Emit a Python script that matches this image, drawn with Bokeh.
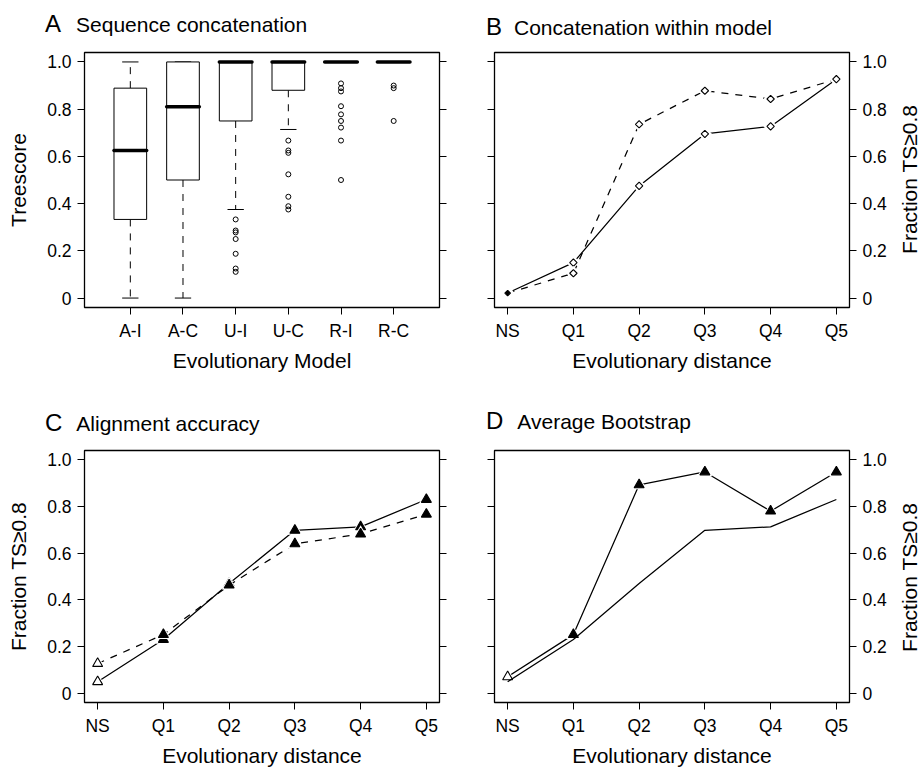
import math

from bokeh.embed import file_html
from bokeh.layouts import column, row
from bokeh.models import Div, FixedTicker, LinearAxis, Range1d
from bokeh.plotting import figure
from bokeh.resources import INLINE

FONT = "Liberation Sans"
DASH = "7 7"

# ---- Panel A: treescore distribution for each evolutionary model ----
models = ["A-I", "A-C", "U-I", "U-C", "R-I", "R-C"]
whisker_low = [0.0, 0.0, 0.375, 0.714, 1.0, 1.0]
quartile_1 = [0.333, 0.5, 0.75, 0.88, 1.0, 1.0]
medians = [0.625, 0.81, 1.0, 1.0, 1.0, 1.0]
quartile_3 = [0.889, 1.0, 1.0, 1.0, 1.0, 1.0]
whisker_high = [1.0, 1.0, 1.0, 1.0, 1.0, 1.0]
outliers_AI = []
outliers_AC = []
outliers_UI = [0.333, 0.286, 0.278, 0.25, 0.1875, 0.125, 0.111]
outliers_UC = [0.667, 0.625, 0.615, 0.524, 0.429, 0.389, 0.375]
outliers_RI = [0.909, 0.889, 0.875, 0.8125, 0.778, 0.75, 0.722, 0.667, 0.5]
outliers_RC = [0.9, 0.889, 0.75]
outliers = [outliers_AI, outliers_AC, outliers_UI, outliers_UC, outliers_RI, outliers_RC]

# ---- Panels B-D: fraction of trees with TS >= 0.8 by evolutionary distance ----
distances = ["NS", "Q1", "Q2", "Q3", "Q4", "Q5"]
within_solid = [0.021, 0.15, 0.475, 0.695, 0.727, 0.927]
within_dashed = [0.021, 0.105, 0.736, 0.878, 0.843, 0.927]
align_solid = [0.049, 0.23, 0.47, 0.698, 0.713, 0.83]
align_dashed = [0.127, 0.251, 0.463, 0.64, 0.682, 0.767]
bootstrap = [0.07, 0.251, 0.893, 0.948, 0.78, 0.948]
align_reference = [0.049, 0.23, 0.47, 0.698, 0.713, 0.83]

y_ticks = [0, 0.2, 0.4, 0.6, 0.8, 1.0]
y_tick_labels = ["0", "0.2", "0.4", "0.6", "0.8", "1.0"]
y_axis_title = "Fraction TS\u22650.8"


def heading(letter, text, width, height, pad_left, pad_top, gap):
    html = (
        f'<div style="margin:0;padding:{pad_top}px 0 0 {pad_left}px;white-space:nowrap;'
        f'line-height:1;font-size:24px;font-family:\'{FONT}\';color:black">'
        f'<span style="font-size:24px">{letter}</span>'
        f'<span style="font-size:21px;margin-left:{gap}px">{text}</span></div>'
    )
    return Div(text=html, width=width, height=height, margin=0)


def side_title(text, width, height, centre_y):
    # vertical title reading bottom-to-top, centred on the plot frame
    html = (
        f'<div style="margin:0;width:{width}px;height:{2 * centre_y}px;display:flex;'
        f'align-items:center;justify-content:center">'
        f'<span style="writing-mode:vertical-rl;transform:rotate(180deg);white-space:nowrap;'
        f'line-height:1;font-size:21px;font-family:\'{FONT}\';color:black">{text}</span></div>'
    )
    return Div(text=html, width=width, height=height, margin=0)


def make_panel(width, height, left, right, top, bottom, x_range):
    p = figure(width=width, height=height, x_range=x_range,
               y_range=Range1d(-0.04, 1.04), output_backend="svg",
               toolbar_location=None, x_axis_location=None,
               y_axis_location=None, min_border_left=left,
               min_border_right=right, min_border_top=top,
               min_border_bottom=bottom)
    p.grid.visible = False
    p.outline_line_color = "black"
    p.outline_line_width = 1.3
    p.background_fill_color = "white"
    p.border_fill_color = "white"
    return p


def add_axis(p, side, ticks, labels, show_labels, title=None):
    ax = LinearAxis()
    ax.ticker = FixedTicker(ticks=ticks)
    ax.major_label_overrides = {t: (lab if show_labels else "") for t, lab in zip(ticks, labels)}
    ax.axis_line_color = None
    ax.major_tick_out = 7
    ax.major_tick_in = 0
    ax.minor_tick_out = 0
    ax.minor_tick_in = 0
    ax.major_tick_line_color = "black"
    ax.major_tick_line_width = 1
    ax.major_label_text_font = FONT
    ax.major_label_text_font_size = "17.5px"
    ax.major_label_text_color = "black"
    ax.major_label_standoff = 6
    if side in ("left", "right"):
        ax.major_label_orientation = "horizontal"
    if title:
        ax.axis_label = title
        ax.axis_label_text_font = FONT
        ax.axis_label_text_font_size = "21px"
        ax.axis_label_text_font_style = "normal"
        ax.axis_label_text_color = "black"
        ax.axis_label_standoff = 5 if side == "below" else 14
    p.add_layout(ax, side)
    return ax


def add_series(p, xs, ys, dash, marker, size, fill, first_fill, first_size, angle=0.0):
    p.line(xs, ys, line_color="black", line_width=1.25, line_dash=dash)
    # white halo keeps the connecting line off the symbol
    p.scatter(xs, ys, marker=marker, size=size + 5, angle=angle,
              fill_color="white", line_color=None)
    p.scatter(xs[1:], ys[1:], marker=marker, size=size, angle=angle,
              fill_color=fill, line_color="black", line_width=1.1)
    p.scatter(xs[:1], ys[:1], marker=marker, size=first_size, angle=angle,
              fill_color=first_fill, line_color="black", line_width=1.1)


dist_x = list(range(len(distances)))
dist_range = (-0.2, 5.2)

# ---------------- Panel A ----------------
pa = make_panel(459, 343, 84, 20, 10, 78, Range1d(0.13, 6.87))
box_x = [i + 1 for i in range(len(models))]
half = 0.31
add_axis(pa, "left", y_ticks, y_tick_labels, True, "Treescore")
add_axis(pa, "right", y_ticks, y_tick_labels, False)
add_axis(pa, "below", box_x, models, True, "Evolutionary Model")

pa.segment(x0=box_x, y0=quartile_3, x1=box_x, y1=whisker_high,
           line_color="black", line_width=1, line_dash=DASH)
pa.segment(x0=box_x, y0=quartile_1, x1=box_x, y1=whisker_low,
           line_color="black", line_width=1, line_dash=DASH)
pa.segment(x0=[x - half / 2 for x in box_x], y0=whisker_high,
           x1=[x + half / 2 for x in box_x], y1=whisker_high,
           line_color="black", line_width=1)
pa.segment(x0=[x - half / 2 for x in box_x], y0=whisker_low,
           x1=[x + half / 2 for x in box_x], y1=whisker_low,
           line_color="black", line_width=1)
pa.vbar(x=box_x, width=2 * half, bottom=quartile_1, top=quartile_3,
        fill_color="white", line_color="black", line_width=1)
pa.segment(x0=[x - half for x in box_x], y0=medians,
           x1=[x + half for x in box_x], y1=medians,
           line_color="black", line_width=3.5, line_cap="round")
for x, pts in zip(box_x, outliers):
    if pts:
        pa.scatter([x] * len(pts), pts, marker="circle", size=5,
                   fill_color=None, line_color="black", line_width=1)

# ---------------- Panel B ----------------
pb = make_panel(438, 343, 35, 48, 10, 78, Range1d(*dist_range))
add_axis(pb, "left", y_ticks, y_tick_labels, False)
add_axis(pb, "right", y_ticks, y_tick_labels, True)
add_axis(pb, "below", dist_x, distances, True, "Evolutionary distance")
add_series(pb, dist_x, within_solid, "solid", "square", 5.2, "white", "black", 4, math.pi / 4)
add_series(pb, dist_x, within_dashed, DASH, "square", 5.2, "white", "black", 4, math.pi / 4)

# ---------------- Panel C ----------------
pc = make_panel(459, 329, 84, 20, 10, 64, Range1d(*dist_range))
add_axis(pc, "left", y_ticks, y_tick_labels, True, y_axis_title)
add_axis(pc, "right", y_ticks, y_tick_labels, False)
add_axis(pc, "below", dist_x, distances, True, "Evolutionary distance")
add_series(pc, dist_x, align_solid, "solid", "triangle", 10, "black", "white", 10)
add_series(pc, dist_x, align_dashed, DASH, "triangle", 10, "black", "white", 10)

# ---------------- Panel D ----------------
pd_ = make_panel(438, 329, 35, 48, 10, 64, Range1d(*dist_range))
add_axis(pd_, "left", y_ticks, y_tick_labels, False)
add_axis(pd_, "right", y_ticks, y_tick_labels, True)
add_axis(pd_, "below", dist_x, distances, True, "Evolutionary distance")
add_series(pd_, dist_x, bootstrap, "solid", "triangle", 10, "black", "white", 10)
pd_.line(dist_x, align_reference, line_color="black", line_width=1.25)

# ---------------- headings and right-hand titles ----------------
head_a = heading("A", "Sequence concatenation", 459, 42, 45, 12, 15)
head_b = heading("B", "Concatenation within model", 462, 42, 27, 15, 12)
head_c = heading("C", "Alignment accuracy", 459, 55, 45, 26, 14)
head_d = heading("D", "Average Bootstrap", 462, 55, 27, 24, 14)
side_b = side_title(y_axis_title, 24, 343, 137)
side_d = side_title(y_axis_title, 24, 329, 137)

layout = column(
    row(head_a, head_b),
    row(pa, pb, side_b),
    row(head_c, head_d),
    row(pc, pd_, side_d),
)

with open("out.html", "w") as f:
    f.write(file_html(layout, INLINE))
